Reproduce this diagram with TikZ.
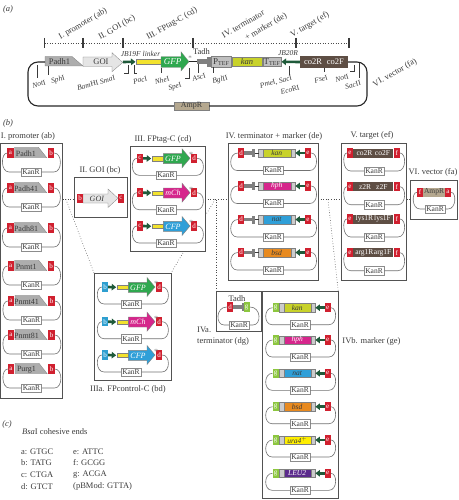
\documentclass[tikz,border=0pt]{standalone}
\usepackage{fontspec}
\setmainfont{Liberation Serif}
\usetikzlibrary{arrows.meta,positioning,backgrounds}

\definecolor{inkgrey}{HTML}{3A3A3A}
\definecolor{sitered}{HTML}{D0202F}
\definecolor{siteblue}{HTML}{2E9FD0}
\definecolor{sitegreen}{HTML}{8CC63F}
\definecolor{linkgreen}{HTML}{1F5A3A}
\definecolor{linkeryellow}{HTML}{F2E22E}
\definecolor{gfpgreen}{HTML}{2FA84F}
\definecolor{mchpink}{HTML}{D6268C}
\definecolor{cfpblue}{HTML}{2F9FD8}
\definecolor{kancol}{HTML}{C8D22A}
\definecolor{bsdcol}{HTML}{E88A1F}
\definecolor{uracol}{HTML}{FFEE00}
\definecolor{leucol}{HTML}{5B2A8C}
\definecolor{targetbrown}{HTML}{5E4E44}
\definecolor{amptan}{HTML}{B5A88F}

\newcommand{\renm}[2]{\textit{#1}#2}
\newcommand{\fs}[1]{\fontsize{#1}{#1}\selectfont}

\newcommand{\sitebox}[4][sitered]{\node[sitenode,fill=#1] (#2) at (#3) {#4};}

% name, left site, right site, x left, x right, position of KanR
\newcommand{\kanrloop}[6]{%
  \node[kanbox] (#1) at (#6) {KanR};
  \draw[loopline] (#2.west) .. controls (#2.west -| #4-2.5,0) and (#1.west -| #4-2.5,0) .. (#1.west -| #4+6,0) -- (#1.west);
  \draw[loopline] (#3.east) .. controls (#3.east -| #5+2.5,0) and (#1.east -| #5+2.5,0) .. (#1.east -| #5-6,0) -- (#1.east);
}

\newcommand{\promrow}[4]{%
  \begin{scope}[shift={(#3,#4)}]
    \filldraw[promarrow] (4,-5.7) -- (28,-5.7) -- (36.2,4.7) -- (4,4.7) -- cycle;
    \node[partlabel] (#1t) at (15.5,1) {#2};
    \sitebox{#1a}{0,0}{a}
    \sitebox{#1b}{40.5,0}{b}
    \kanrloop{#1k}{#1a}{#1b}{-7.5}{49.5}{20.5,19}
  \end{scope}
}

% name, first site colour, first site letter, label, fill, x, y
\newcommand{\fprow}[7]{%
  \begin{scope}[shift={(#6,#7)}]
    \sitebox[#2]{#1a}{0,0}{#3}
    \sitebox{#1d}{54,0}{d}
    \node[linkerbar,minimum width=11.6,anchor=west] (#1l) at (11.7,0.3) {};
    \draw[linkarrow] (#1a.east) -- (#1l.west);
    \filldraw[draw=gray,fill=#5] (23.3,-4.7) -- (42,-4.7) -- (42,-9.5) -- (50,0) -- (42,9.5) -- (42,5.3) -- (23.3,5.3) -- cycle;
    \node[partlabel,text=white] (#1t) at (33,0.5) {\textit{#4}};
    \node[partlabel,text=gray] (#1s) at (51,-3) {*};
    \kanrloop{#1k}{#1a}{#1d}{-7}{63}{26,17}
  \end{scope}
}

% name, label, fill, text colour, x, y
\newcommand{\termrow}[6]{%
  \begin{scope}[shift={(#5,#6)}]
    \sitebox{#1d}{0,0}{d}
    \sitebox{#1e}{67,0}{e}
    \node[tadhbar,minimum width=8.7,anchor=west] (#1b) at (2.5,0) {};
    \node[tadhcap,right=0pt of #1b] (#1c) {};
    \node[markerbar,fill=#3,text=#4,minimum width=28] (#1m) at (35.7,0) {\textit{#2}};
    \node[greycap,left=0pt of #1m] (#1p) {};
    \node[greycap,right=0pt of #1m] (#1q) {};
    \draw[thin,inkgrey] (#1c) -- (#1p);
    \draw[linkarrow] (#1e.west) -- (#1q.east);
    \kanrloop{#1k}{#1d}{#1e}{-10}{75}{32,17.5}
  \end{scope}
}

\newcommand{\markerrow}[5]{%
  \begin{scope}[shift={(275.7,#5)}]
    \sitebox[sitegreen]{#1g}{0,0}{g}
    \sitebox{#1e}{52,0}{e}
    \node[markerbar,fill=#3,text=#4,minimum width=27] (#1m) at (21.5,0) {\textit{#2}};
    \node[greycap,left=0pt of #1m] (#1p) {};
    \node[greycap,right=0pt of #1m] (#1q) {};
    \draw[linkarrow] (#1e.west) -- (#1q.east);
    \kanrloop{#1k}{#1g}{#1e}{-9.7}{59.3}{24.3,17}
  \end{scope}
}

\newcommand{\targetrow}[3]{%
  \begin{scope}[shift={(350,#3)}]
    \node[targetbar] (#1b) at (23.3,0) {#2};
    \sitebox{#1e}{0,0}{e}
    \sitebox{#1f}{46.7,0}{f}
    \kanrloop{#1k}{#1e}{#1f}{-5.3}{54}{24,18}
  \end{scope}
}

\begin{document}
\begin{tikzpicture}[
    x=1pt, y=-1pt,
    >=Stealth,
    every node/.style={text=inkgrey},
    title/.style={font=\fs{8.5}, inner sep=0pt},
    reslabel/.style={font=\fs{7.5}, inner sep=0pt, rotate=15},
    panelbox/.style={draw=black!68, line width=1pt, fill=white, anchor=north west, inner sep=0pt, outer sep=0pt},
    sitenode/.style={draw=none, text=white, font=\fs{7}, minimum width=6.4, minimum height=9.4, inner sep=0pt, outer sep=0pt},
    kanbox/.style={draw=black!45, fill=white, line width=0.5pt, font=\fs{7.5}, minimum width=20, minimum height=8.4, inner sep=0pt},
    loopline/.style={draw=black!55, line width=0.6pt},
    partlabel/.style={font=\fs{8}, inner sep=0pt},
    promarrow/.style={draw=gray, fill=black!32, line width=0.3pt},
    linkerbar/.style={draw=gray, fill=linkeryellow, line width=0.3pt, minimum height=4.4, inner sep=0pt, outer sep=0pt},
    linkarrow/.style={draw=linkgreen, line width=2.6pt, shorten >=0.5pt, -{Triangle[length=4.5pt,width=6.5pt]}},
    tadhbar/.style={draw=none, fill=black!50, minimum height=3.6, inner sep=0pt, outer sep=0pt},
    tadhcap/.style={draw=none, fill=black!50, minimum width=2.3, minimum height=8, inner sep=0pt, outer sep=0pt},
    greycap/.style={draw=gray, fill=black!20, line width=0.3pt, minimum width=4.2, minimum height=8.6, inner sep=0pt, outer sep=0pt},
    markerbar/.style={draw=gray, line width=0.3pt, font=\fs{7.5}, minimum height=8.6, inner sep=0pt, outer sep=0pt},
    targetbar/.style={draw=none, fill=targetbrown, text=white, font=\fs{7.5}, minimum width=40, minimum height=9, inner sep=0pt, outer sep=0pt},
    zoomline/.style={dotted, draw=black!70, line width=0.6pt},
    barline/.style={draw=inkgrey, line width=1.1pt},
    tickline/.style={draw=inkgrey, line width=0.45pt}
  ]
  \useasboundingbox (0,0) rectangle (458,500);

  % (a)
  \node[title] (panela) at (8,9.5) {\textit{(a)}};
  \coordinate (cutleft) at (44.5,43);
  \coordinate (cutright) at (349,43);
  \draw[zoomline] (cutleft) -- (cutright);
  \foreach \cutname/\cutx in {cuta/44.5, cutb/83, cutc/123, cutd/193, cute/296, cutf/349} {
    \coordinate (\cutname top) at (\cutx,38);
    \coordinate (\cutname low) at (\cutx,48);
    \draw[barline] (\cutname top) -- (\cutname low);
  }
  \foreach \lname/\lx/\ly/\ltext in {
      lproma/83/24/{I. promoter (ab)}, lgoia/117/28/{II. GOI (bc)},
      lfpa/172/24/{III. FPtag-C (cd)}, lterma/243/24/{IV. terminator},
      lmarka/266/27/{+ marker (de)}, ltarga/310/25/{V. target (ef)},
      lveca/395/73/{VI. vector (fa)}} {
    \node[title,rotate=30] (\lname) at (\lx,\ly) {\ltext};
  }

  \filldraw[promarrow] (45,56.5) -- (72,56.5) -- (83,66) -- (45,66) -- cycle;
  \node[title] (padha) at (59.5,62) {Padh1};
  \filldraw[draw=gray,fill=black!10,line width=0.3pt] (83,57) -- (112,57) -- (112,52.7) -- (122.7,62.5) -- (112,71.7) -- (112,66.5) -- (83,66.5) -- cycle;
  \node[title] (goia) at (101,62) {GOI};
  \node[linkerbar,minimum width=25,anchor=west] (linkera) at (136,61.8) {};
  \coordinate (jbstart) at (123,62);
  \draw[linkarrow] (jbstart) -- (linkera.west);
  \node[title,font=\fs{7.5}] (jbfa) at (140.5,54) {\textit{JB19F linker}};
  \filldraw[draw=gray,fill=gfpgreen,line width=0.3pt] (161,56.7) -- (181,56.7) -- (181,51.7) -- (189,61.7) -- (181,71) -- (181,67.5) -- (161,67.5) -- cycle;
  \node[title,text=white,font=\fs{9}] (gfpa) at (172.5,62) {\textit{GFP}};
  \node[title,text=gray,font=\fs{7}] (stara) at (190,58) {*};
  \node[title] (tadha) at (201.5,52) {Tadh};
  \node[tadhbar,minimum width=10,minimum height=4.6,anchor=west] (tadhbara) at (197,61.8) {};
  \node[tadhcap,minimum width=4,minimum height=10,right=0pt of tadhbara] (tadhcapa) {};
  \node[markerbar,fill=black!25,minimum width=20,minimum height=10.5,anchor=west,font=\fs{9}] (ptefa) at (211.3,61.8) {P\textsubscript{TEF}};
  \node[markerbar,fill=kancol,minimum width=30,minimum height=9.5,anchor=west,font=\fs{8.5}] (kana) at (232,61.8) {\textit{kan}};
  \node[markerbar,fill=black!25,minimum width=18,minimum height=9.5,anchor=west,font=\fs{9}] (ttefa) at (263,61.8) {T\textsubscript{TEF}};
  \node[targetbar,minimum width=48,minimum height=12,anchor=west,font=\fs{8.5}] (coa) at (300,62) {co2R\hspace{5pt}co2F};
  \draw[linkarrow] (coa.west) -- (ttefa.east);
  \node[title,font=\fs{7.5}] (jbra) at (288,53) {\textit{JB20R}};
  \node[draw=gray,fill=amptan,line width=0.3pt,font=\fs{8},minimum width=35,minimum height=8.4,inner sep=0pt] (ampa) at (191.5,106) {AmpR};
  \coordinate (padhleft) at (45,62);
  \draw[black!85,line width=1.1pt,rounded corners=10pt] (padhleft) -- (28,62) -- (28,106) -- (ampa.west);
  \draw[black!85,line width=1.1pt,rounded corners=10pt] (coa.east) -- (367,62) -- (367,106) -- (ampa.east);
  \coordinate (gfpout) at (189,61.8);
  \draw[black!85,line width=1pt] (gfpout) -- (tadhbara.west);

  % restriction sites
  \foreach \rname/\rx/\ra/\rb in {noti/37.5/65/78, sphi/48/66/75, nhei/161/68/73, asci/198/64/73, bgl/213/67/73, eco/289/66/75, fsei/324/68/72, sacb/359/63/78} {
    \coordinate (\rname top) at (\rx,\ra);
    \coordinate (\rname low) at (\rx,\rb);
    \draw[tickline] (\rname top) -- (\rname low);
  }
  \foreach \rname/\rx/\ra/\rb/\rh in {smai/128/65/73/124, paci/134/65/73/137, spei/189/68/78/185, notb/354/65/71/350} {
    \coordinate (\rname top) at (\rx,\ra);
    \coordinate (\rname bend) at (\rx,\rb);
    \coordinate (\rname low) at (\rh,\rb);
    \draw[tickline] (\rname top) -- (\rname bend) -- (\rname low);
  }
  \foreach \rname/\rx/\ry/\rtext in {
      lnoti/39/84/{\renm{Not}{I}}, lsphi/58/80/{\renm{Sph}{I}},
      lbam/96/83/{\renm{Bam}{HI}\ \renm{Sma}{I}}, lpac/140/80/{\renm{Pac}{I}},
      lnhe/162/80/{\renm{Nhe}{I}}, lspe/175/87/{\renm{Spe}{I}},
      lasc/199/77/{\renm{Asc}{I}}, lbgl/220/80/{\renm{Bgl}{II}},
      lpme/276/82/{\renm{Pme}{I},\ \renm{Sac}{I}}, leco/290/90/{\renm{Eco}{RI}},
      lfse/321/79/{\renm{Fse}{I}}, lnotb/342/78/{\renm{Not}{I}},
      lsacb/353/85/{\renm{Sac}{II}}} {
    \node[reslabel] (\rname) at (\rx,\ry) {\rtext};
  }

  % (b)
  \node[title] (panelb) at (8,123) {\textit{(b)}};
  \node[panelbox,minimum width=62,minimum height=255] (boxprom) at (0.5,143) {};
  \node[panelbox,minimum width=52.5,minimum height=40.7] (boxgoi) at (74.5,177) {};
  \node[panelbox,minimum width=75,minimum height=105] (boxfp) at (130,146.5) {};
  \node[panelbox,minimum width=77,minimum height=107] (boxfpc) at (94,273) {};
  \node[panelbox,minimum width=90,minimum height=137] (boxterm) at (228,143) {};
  \node[panelbox,minimum width=65,minimum height=137] (boxtarg) at (341.7,143) {};
  \node[panelbox,minimum width=46.6,minimum height=38.6] (boxvec) at (410.7,180.7) {};
  \node[panelbox,minimum width=45,minimum height=39.3] (boxtadh) at (216.7,291.7) {};
  \node[panelbox,minimum width=75.6,minimum height=207] (boxmark) at (262.7,291.7) {};

  \begin{scope}[on background layer]
    \coordinate (dotrow) at (0,199.5);
    \foreach \boxa/\boxb in {boxprom/boxgoi, boxgoi/boxfp, boxfp/boxterm, boxterm/boxtarg, boxtarg/boxvec} {
      \draw[zoomline] (\boxa.east |- dotrow) -- (\boxb.west |- dotrow);
    }
    \coordinate (splita) at (66,199.5);
    \coordinate (splitb) at (215,199.5);
    \coordinate (splitc) at (216.7,199.5);
    \coordinate (splitd) at (328,199.5);
    \draw[zoomline] (splita) -- (boxfpc.north west);
    \draw[zoomline] (splitb) -- (boxfpc.north east);
    \draw[zoomline] (splitc) -- (boxtadh.north west);
    \draw[zoomline] (splitd) -- (boxmark.north east);
  \end{scope}

  \foreach \lname/\lx/\ly/\ltext in {
      tprom/28/136/{I. promoter (ab)}, tgoi/100/170/{II. GOI (bc)},
      tfp/163/139/{III. FPtag-C (cd)}, tfpc/128/389/{IIIa. FPcontrol-C (bd)},
      tterm/274/136/{IV. terminator + marker (de)}, ttarg/372/135/{V. target (ef)},
      tvec/433/172/{VI. vector (fa)}, tmark/371.5/341/{IVb. marker (ge)}} {
    \node[title] (\lname) at (\lx,\ly) {\ltext};
  }
  \node[title,align=left,anchor=north west,font=\fs{8.5},text=inkgrey] (ttadh) at (197,327) {IVa.\\[2.5pt]terminator (dg)};

  \foreach \rowname/\rowtext/\rowx/\rowy in {
      pa/Padh1/10.5/153, pb/Padh41/10.5/188, pc/Padh81/10.5/228,
      pd/Pnmt1/10.7/266, pe/Pnmt41/11/301, pf/Pnmt81/11/335, pg/Purg1/11/369} {
    \promrow{\rowname}{\rowtext}{\rowx}{\rowy}
  }

  % GOI module
  \filldraw[draw=gray,fill=black!10,line width=0.3pt] (83,194) -- (108,194) -- (108,189) -- (118,198.3) -- (108,207.5) -- (108,203) -- (83,203) -- cycle;
  \node[partlabel] (goit) at (97,199) {\textit{GOI}};
  \sitebox{goib}{80,198.3}{b}
  \sitebox{goic}{121,198.3}{c}

  \foreach \rowname/\rowtext/\rowfill/\rowy in {fa/GFP/gfpgreen/158.3, fb/mCh/mchpink/192.7, fc/CFP/cfpblue/226} {
    \fprow{\rowname}{sitered}{c}{\rowtext}{\rowfill}{140}{\rowy}
  }
  \foreach \rowname/\rowtext/\rowfill/\rowy in {ca/GFP/gfpgreen/287, cb/mCh/mchpink/321.7, cc/CFP/cfpblue/355} {
    \fprow{\rowname}{siteblue}{b}{\rowtext}{\rowfill}{105}{\rowy}
  }

  \foreach \rowname/\rowtext/\rowfill/\rowink/\rowy in {
      ta/kan/kancol/inkgrey/153, tb/hph/mchpink/white/186, tc/nat/cfpblue/inkgrey/219.5, td/bsd/bsdcol/inkgrey/252.5} {
    \termrow{\rowname}{\rowtext}{\rowfill}{\rowink}{241}{\rowy}
  }

  \foreach \rowname/\rowtext/\rowy in {
      va/{co2R\hspace{2.5pt}co2F}/153, vb/{z2R\hspace{5pt}z2F}/186.7,
      vc/{lys1R\hspace{1pt}lys1F}/219, vd/{arg1R\hspace{0.5pt}arg1F}/252.7} {
    \targetrow{\rowname}{\rowtext}{\rowy}
  }

  % vector module
  \node[targetbar,fill=amptan,text=inkgrey,minimum width=22] (ampb) at (434,192.3) {AmpR};
  \sitebox{vecf}{420,192.3}{f}
  \sitebox{veca}{448,192.3}{a}
  \kanrloop{veck}{vecf}{veca}{414}{454}{435,209}

  % terminator module
  \node[title] (tadhb) at (237,299) {Tadh};
  \node[tadhbar,minimum width=11] (tadhc) at (238.5,307) {};
  \node[tadhcap,anchor=east] (tadhd) at (tadhc.east) {};
  \sitebox{tada}{230,307}{d}
  \sitebox[sitegreen]{tadb}{246.7,307}{g}
  \kanrloop{tadk}{tada}{tadb}{218}{259}{239,325}

  \foreach \rowname/\rowtext/\rowfill/\rowink/\rowy in {
      ma/kan/kancol/inkgrey/307.7, mb/hph/mchpink/white/340, mc/nat/cfpblue/inkgrey/373.3,
      md/bsd/bsdcol/inkgrey/406.7, me/{ura4$^+$}/uracol/inkgrey/440, mf/LEU2/leucol/white/473.3} {
    \markerrow{\rowname}{\rowtext}{\rowfill}{\rowink}{\rowy}
  }

  % (c)
  \node[title] (panelc) at (7,424) {\textit{(c)}};
  \node[title,anchor=west] (bsai) at (22,431.7) {\renm{Bsa}{I} cohesive ends};
  \foreach \ename/\ex/\ey/\etext in {
      ea/21/451.7/{a: GTGC}, eb/21/463/{b: TATG}, ec/21/475/{c: CTGA}, ed/21/486.7/{d: GTCT},
      ee/73/451.7/{e: ATTC}, ef/73/463/{f: GCGG}, eg/73/475/{g: ACGA}, eh/73/486.7/{(pBMod: GTTA)}} {
    \node[title,anchor=west] (\ename) at (\ex,\ey) {\etext};
  }
\end{tikzpicture}
\end{document}
